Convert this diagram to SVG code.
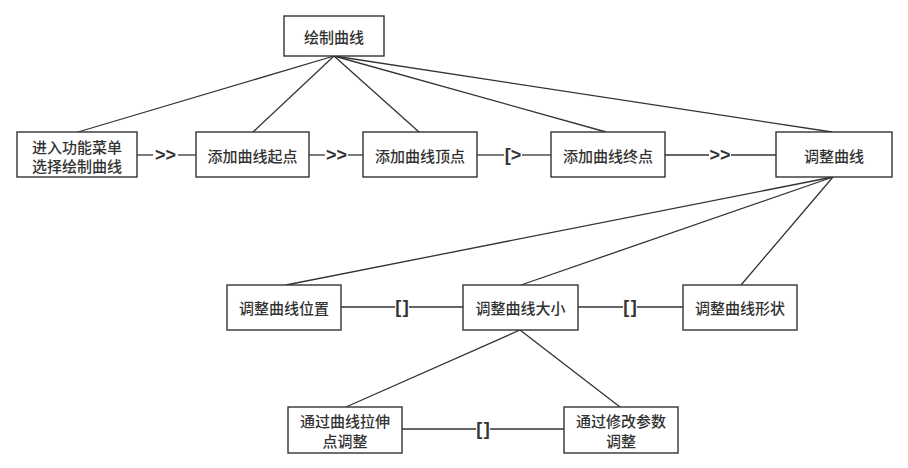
<svg xmlns="http://www.w3.org/2000/svg" width="908" height="468" viewBox="0 0 908 468">
<style>
.box{fill:#fff;stroke:#333;stroke-width:1.4}
.t{font-family:"Noto Sans CJK SC","Noto Sans",sans-serif;font-size:15px;font-weight:500;fill:#333;text-anchor:middle;dominant-baseline:central}
.c{stroke:#333;stroke-width:1.3;fill:none}
.op{font-family:"Liberation Sans",Arial,sans-serif;font-size:18px;font-weight:bold;fill:#333;text-anchor:middle;dominant-baseline:central}
.br{letter-spacing:1.5px}
</style>
<rect width="908" height="468" fill="#fff"/>
<g id="connectors">
<line class="c" x1="334" y1="56" x2="78" y2="132"/>
<line class="c" x1="334" y1="56" x2="253" y2="132"/>
<line class="c" x1="334" y1="56" x2="419" y2="132"/>
<line class="c" x1="334" y1="56" x2="606" y2="132"/>
<line class="c" x1="334" y1="56" x2="832" y2="132"/>
<line class="c" x1="833" y1="177" x2="286" y2="285"/>
<line class="c" x1="833" y1="177" x2="521" y2="285"/>
<line class="c" x1="833" y1="177" x2="741" y2="285"/>
<line class="c" x1="520" y1="330" x2="346" y2="407"/>
<line class="c" x1="520" y1="330" x2="620" y2="407"/>
<line class="c" x1="137" y1="155" x2="153" y2="155"/>
<line class="c" x1="178" y1="155" x2="196" y2="155"/>
<text class="op" x="165.5" y="155">&gt;&gt;</text>
<line class="c" x1="309" y1="155" x2="325" y2="155"/>
<line class="c" x1="348" y1="155" x2="363" y2="155"/>
<text class="op" x="336.5" y="155">&gt;&gt;</text>
<line class="c" x1="477" y1="155" x2="504" y2="155"/>
<line class="c" x1="522" y1="155" x2="551" y2="155"/>
<text class="op" x="513" y="155">[&gt;</text>
<line class="c" x1="665" y1="155" x2="709" y2="155"/>
<line class="c" x1="731" y1="155" x2="776" y2="155"/>
<text class="op" x="720" y="155">&gt;&gt;</text>
<line class="c" x1="341" y1="307" x2="395" y2="307"/>
<line class="c" x1="409" y1="307" x2="463" y2="307"/>
<text class="op br" x="402.7" y="307">[]</text>
<line class="c" x1="578" y1="307" x2="623" y2="307"/>
<line class="c" x1="637" y1="307" x2="683" y2="307"/>
<text class="op br" x="630.7" y="307">[]</text>
<line class="c" x1="402" y1="429" x2="476" y2="429"/>
<line class="c" x1="490" y1="429" x2="564" y2="429"/>
<text class="op br" x="483.7" y="429">[]</text>
</g>
<g id="n0"><rect class="box" x="284" y="16" width="100" height="40"/><text class="t" x="334" y="36">绘制曲线</text></g>
<g id="n1"><rect class="box" x="17" y="132" width="120" height="45"/><text class="t" x="77" y="146">进入功能菜单</text><text class="t" x="77" y="165">选择绘制曲线</text></g>
<g id="n2"><rect class="box" x="196" y="132" width="113" height="45"/><text class="t" x="252.5" y="155">添加曲线起点</text></g>
<g id="n3"><rect class="box" x="363" y="132" width="114" height="45"/><text class="t" x="420" y="155">添加曲线顶点</text></g>
<g id="n4"><rect class="box" x="551" y="132" width="114" height="45"/><text class="t" x="608" y="155">添加曲线终点</text></g>
<g id="n5"><rect class="box" x="776" y="132" width="116" height="45"/><text class="t" x="834" y="155">调整曲线</text></g>
<g id="n6"><rect class="box" x="227" y="285" width="114" height="45"/><text class="t" x="284" y="307">调整曲线位置</text></g>
<g id="n7"><rect class="box" x="463" y="285" width="115" height="45"/><text class="t" x="520.5" y="307">调整曲线大小</text></g>
<g id="n8"><rect class="box" x="683" y="285" width="114" height="45"/><text class="t" x="740" y="307">调整曲线形状</text></g>
<g id="n9"><rect class="box" x="288" y="407" width="114" height="46"/><text class="t" x="345" y="420">通过曲线拉伸</text><text class="t" x="345" y="440">点调整</text></g>
<g id="n10"><rect class="box" x="564" y="407" width="114" height="46"/><text class="t" x="621" y="420">通过修改参数</text><text class="t" x="621" y="440">调整</text></g>
</svg>
